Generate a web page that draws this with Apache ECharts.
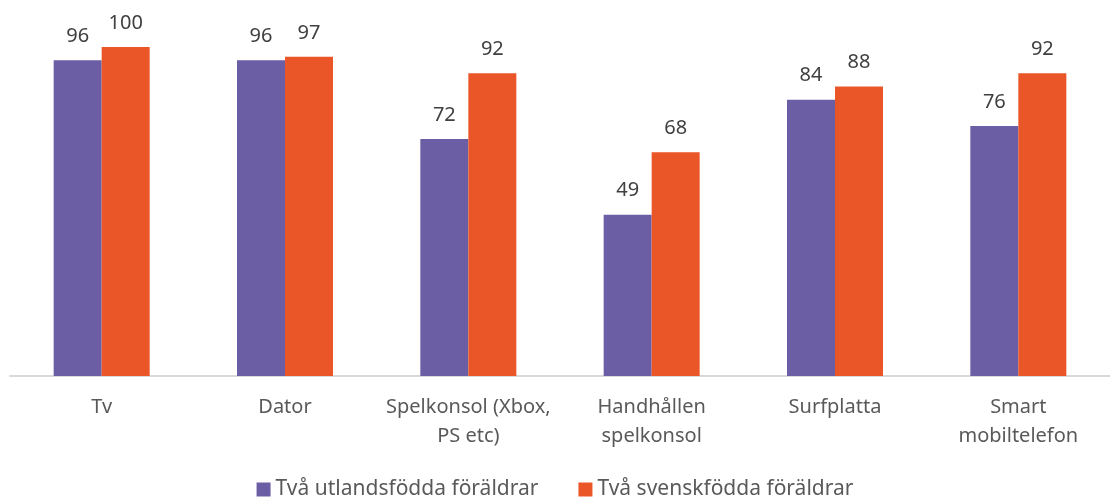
<!DOCTYPE html>
<html><head><meta charset="utf-8">
<script src="https://cdn.jsdelivr.net/npm/echarts@6/dist/echarts.min.js"></script>
<style>html,body{margin:0;padding:0;background:#fff}#c{width:1110px;height:499px}</style>
</head><body><div id="c"></div>
<script>
const categories = ['Tv', 'Dator', 'Spelkonsol (Xbox,\nPS etc)', 'Handhållen\nspelkonsol', 'Surfplatta', 'Smart\nmobiltelefon'];
const seriesNames = ['Två utlandsfödda föräldrar', 'Två svenskfödda föräldrar'];
const utlandsfodda = [96, 96, 72, 49, 84, 76];
const svenskfodda = [100, 97, 92, 68, 88, 92];
const colors = ['#6B5EA5', '#EA5628'];
const font = '"Noto Sans", sans-serif';
const chart = echarts.init(document.getElementById('c'));
const lbl = {show: true, position: 'top', distance: 14, color: '#404040', fontSize: 20, fontFamily: font};
chart.setOption({
  animation: false,
  grid: {left: 10, width: 1114, top: 47, bottom: 123},
  legend: {
    top: 474, left: 'center', itemWidth: 14, itemHeight: 14, itemGap: 40,
    icon: 'rect',
    textStyle: {color: '#595959', fontSize: 21, fontFamily: font}
  },
  xAxis: {
    type: 'category', data: categories,
    axisLine: {lineStyle: {color: '#D9D9D9', width: 2}},
    axisTick: {show: false},
    axisLabel: {interval: 0, color: '#595959', fontSize: 20, fontFamily: font, margin: 17, lineHeight: 29}
  },
  yAxis: {type: 'value', min: 0, max: 100, show: false, splitLine: {show: false}},
  series: [
    {name: seriesNames[0], type: 'bar', data: utlandsfodda, barWidth: 48, barGap: '0%', itemStyle: {color: colors[0]}, label: lbl},
    {name: seriesNames[1], type: 'bar', data: svenskfodda, barWidth: 48, barGap: '0%', itemStyle: {color: colors[1]}, label: lbl}
  ]
});
</script></body></html>
